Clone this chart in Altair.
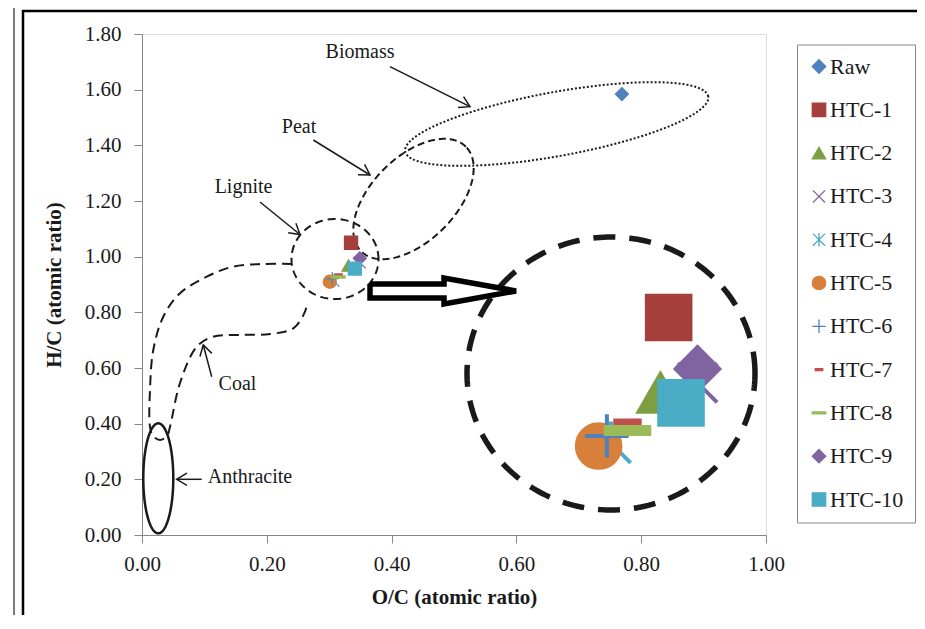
import altair as alt
import numpy as np
import pandas as pd

# ---------------- data ----------------
series = ["Raw", "HTC-1", "HTC-2", "HTC-3", "HTC-4", "HTC-5",
          "HTC-6", "HTC-7", "HTC-8", "HTC-9", "HTC-10"]
oc_ratio = [0.769, 0.335, 0.331, 0.349, 0.307, 0.301, 0.305, 0.315, 0.315, 0.349, 0.341]
hc_ratio = [1.584, 1.050, 0.968, 0.979, 0.913, 0.910, 0.921, 0.934, 0.927, 0.994, 0.957]

colors = ["#4F81BD", "#A53F3C", "#7E9E44", "#8064A2", "#4BACC6", "#D6803C",
          "#4F81BD", "#C0504D", "#9BBB59", "#8064A2", "#4BACC6"]
X_PATH = "M-0.9,-0.9L0.9,0.9M-0.9,0.9L0.9,-0.9"
AST_PATH = "M-0.9,-0.9L0.9,0.9M-0.9,0.9L0.9,-0.9M0,-1L0,1"
PLUS_PATH = "M-1,0L1,0M0,-1L0,1"
DASH_S = "M-0.56,-0.16L0.56,-0.16L0.56,0.16L-0.56,0.16Z"
DASH_L = "M-1,-0.16L1,-0.16L1,0.16L-1,0.16Z"
shapes = ["diamond", "square", "triangle-up", X_PATH, AST_PATH, "circle",
          PLUS_PATH, DASH_S, DASH_L, "diamond", "square"]

x_ticks = [0.0, 0.2, 0.4, 0.6, 0.8, 1.0]
y_ticks = [0.0, 0.2, 0.4, 0.6, 0.8, 1.0, 1.2, 1.4, 1.6, 1.8]

# zoomed inset (magnified copy of the lignite region)
zoom_src = [0.307, 0.989]
zoom_dst = [0.7516, 0.5802]
zoom_k = 3.3

# region outlines: name, centre x, centre y, semi-axis a (px), semi-axis b (px), angle (deg)
ell_names = ["Biomass", "Peat", "Lignite", "Anthracite", "Inset"]
ell_cx = [0.6646, 0.4351, 0.3093, 0.0261, 0.7516]
ell_cy = [1.4766, 1.2072, 0.9916, 0.2037, 0.5802]
ell_a = [154, 74, 43.5, 15, 144]
ell_b = [32, 42, 40, 55, 136.5]
ell_ang = [10.3, 45, 0, 0, 0]

# coal band outline
coal_x = [0.2404, 0.1939, 0.1458, 0.1037, 0.0609, 0.0341, 0.0181, 0.0128, 0.0128,
          0.0176, 0.0288, 0.0401,
          0.0449, 0.0609, 0.0877, 0.1138, 0.1571, 0.2051, 0.2425, 0.2612, 0.2644]
coal_y = [0.9737, 0.9737, 0.9640, 0.9280, 0.8684, 0.7843, 0.6647, 0.5210, 0.3891,
          0.3557, 0.3413, 0.3557,
          0.3891, 0.5461, 0.6765, 0.7125, 0.7186, 0.7222, 0.7426, 0.8023, 0.8371]

# labels and arrows
label_text = ["Biomass", "Peat", "Lignite", "Coal", "Anthracite"]
label_x = [0.3494, 0.2516, 0.1627, 0.1530, 0.1731]
label_y = [1.7364, 1.4669, 1.2503, 0.5425, 0.2066]
arrow_x0 = [0.3974, 0.2745, 0.1891, 0.1117, 0.0957]
arrow_y0 = [1.6825, 1.4192, 1.1964, 0.5688, 0.2001]
arrow_x1 = [0.5256, 0.3654, 0.2532, 0.0982, 0.0556]
arrow_y1 = [1.5388, 1.2934, 1.0796, 0.6826, 0.2001]
arrow_ang = [26.6, 31.7, 39.0, 255.2, 180.0]

# block arrow pointing to the inset
block_x = [0.3654, 0.4840, 0.4840, 0.5994, 0.4840, 0.4840, 0.3654, 0.3654]
block_y = [0.9018, 0.9018, 0.9234, 0.8767, 0.8299, 0.8515, 0.8515, 0.9018]

# ---------------- helpers ----------------
W, H = 624, 501
PX_X = W / 1.0
PX_Y = H / 1.8

FONT = "Liberation Serif"
TXT = "#1a1a1a"
GRID = "#868686"

xscale = alt.Scale(domain=[0, 1], nice=False, zero=False)
yscale = alt.Scale(domain=[0, 1.8], nice=False, zero=False)
xaxis = alt.Axis(values=x_ticks, format=".2f", title="O/C (atomic ratio)", grid=False,
                 labelFont=FONT, labelFontSize=21, labelColor=TXT, labelPadding=10,
                 tickSize=8, tickColor=GRID, domainColor=GRID, labelFlush=False,
                 titleFont=FONT, titleFontSize=21, titleFontWeight="bold",
                 titleColor=TXT, titlePadding=12)
yaxis = alt.Axis(values=y_ticks, format=".2f", title="H/C (atomic ratio)", grid=False,
                 labelFont=FONT, labelFontSize=21, labelColor=TXT, labelPadding=13,
                 tickSize=8, tickColor=GRID, domainColor=GRID, labelFlush=False,
                 titleFont=FONT, titleFontSize=21, titleFontWeight="bold",
                 titleColor=TXT, titlePadding=20)


def X(f="x"):
    return alt.X(f"{f}:Q", scale=xscale, axis=xaxis)


def Y(f="y"):
    return alt.Y(f"{f}:Q", scale=yscale, axis=yaxis)


def ellipse_df(i, n=241):
    t = np.linspace(0, 2 * np.pi, n)
    th = np.radians(ell_ang[i])
    ex = ell_a[i] * np.cos(t)
    ey = ell_b[i] * np.sin(t)
    rx = ex * np.cos(th) - ey * np.sin(th)
    ry = ex * np.sin(th) + ey * np.cos(th)
    return pd.DataFrame({"x": ell_cx[i] + rx / PX_X, "y": ell_cy[i] + ry / PX_Y,
                         "i": np.arange(n)})


def outline(df, dash, width, interp="linear"):
    kw = dict(color=TXT, strokeWidth=width, interpolate=interp, strokeCap="butt")
    if dash:
        kw["strokeDash"] = dash
    return alt.Chart(df).mark_line(**kw).encode(x=X(), y=Y(), order=alt.Order("i:Q"))


# ---------------- layers ----------------
biomass = outline(ellipse_df(0), [2, 2], 2)
peat = outline(ellipse_df(1), [7, 4], 2)
lignite = outline(ellipse_df(2), [8, 5], 2)
anthr = outline(ellipse_df(3), None, 2.5)
inset_c = outline(ellipse_df(4), [22, 14], 5.5)
coal_df = pd.DataFrame({"x": coal_x, "y": coal_y, "i": range(len(coal_x))})
coal = outline(coal_df, [10, 6], 2, "catmull-rom")
block_df = pd.DataFrame({"x": block_x, "y": block_y, "i": range(len(block_x))})
block = alt.Chart(block_df).mark_line(color="black", strokeWidth=5.5, strokeJoin="miter").encode(
    x=X(), y=Y(), order=alt.Order("i:Q"))

arrows_df = pd.DataFrame({"x": arrow_x0, "y": arrow_y0, "x2": arrow_x1, "y2": arrow_y1,
                          "ang": arrow_ang})
arrow_lines = alt.Chart(arrows_df).mark_rule(color=TXT, strokeWidth=1.5).encode(
    x=X(), y=Y(), x2="x2:Q", y2="y2:Q")
heads_df = pd.DataFrame({"x": arrow_x1, "y": arrow_y1, "ang": arrow_ang})
arrow_heads = alt.Chart(heads_df).mark_point(
    shape="M-1,-0.6L0,0L-1,0.6", filled=False, size=420, strokeWidth=1.5,
    color=TXT, opacity=1).encode(x=X(), y=Y(), angle=alt.Angle("ang:Q", scale=None))

labels_df = pd.DataFrame({"x": label_x, "y": label_y, "t": label_text})
labels = alt.Chart(labels_df).mark_text(font=FONT, fontSize=20, color=TXT,
                                        align="center", baseline="middle").encode(
    x=X(), y=Y(), text="t:N")

leg = alt.Legend(orient="none", legendX=655, legendY=10.5, title=None,
                 labelFont=FONT, labelFontSize=22, labelColor=TXT,
                 symbolSize=180, symbolStrokeWidth=1.3, rowPadding=21.3,
                 padding=11, strokeColor=GRID, fillColor="white", labelOffset=0)


def series_enc():
    return dict(
        fill=alt.Fill("series:N", scale=alt.Scale(domain=series, range=colors), legend=leg),
        stroke=alt.Stroke("series:N", scale=alt.Scale(domain=series, range=colors), legend=leg),
        shape=alt.Shape("series:N", scale=alt.Scale(domain=series, range=shapes), legend=leg),
    )


pts_df = pd.DataFrame({"series": series, "x": oc_ratio, "y": hc_ratio})
points = alt.Chart(pts_df).mark_point(filled=True, opacity=1, size=170, strokeWidth=1.3).encode(
    x=X(), y=Y(), **series_enc())

inset_df = pts_df[pts_df["series"] != "Raw"].copy()
inset_df["x"] = zoom_dst[0] + zoom_k * (inset_df["x"] - zoom_src[0])
inset_df["y"] = zoom_dst[1] + zoom_k * (inset_df["y"] - zoom_src[1])
inset_pts = alt.Chart(inset_df).mark_point(filled=True, opacity=1, size=1900, strokeWidth=4).encode(
    x=X(), y=Y(), **series_enc())

# page frame lines of the original figure
dummy = pd.DataFrame({"a": [0]})
frame = alt.Chart(dummy).mark_rect(fill="transparent", stroke="black", strokeWidth=2.5).encode(
    x=alt.value(-119), x2=alt.value(900), y=alt.value(-23), y2=alt.value(700))
frame_thin = alt.Chart(dummy).mark_rule(color="#333333", strokeWidth=1.3).encode(
    x=alt.value(-128), y=alt.value(-30), y2=alt.value(620))

chart = alt.layer(
    frame, frame_thin,
    biomass, peat, lignite, coal, anthr, inset_c, block,
    arrow_lines, arrow_heads, labels,
    points, inset_pts,
).properties(
    width=W, height=H,
    padding={"left": 134, "top": 26, "right": 151, "bottom": 80},
    autosize=alt.AutoSizeParams(type="none"),
).configure_view(
    stroke=GRID, strokeWidth=1
).configure_axis(
    labelFont=FONT, titleFont=FONT
).configure_legend(
    labelFont=FONT, labelFontSize=22
).configure(background="white")

chart.save("out.html", embed_options={"renderer": "svg", "actions": False})
